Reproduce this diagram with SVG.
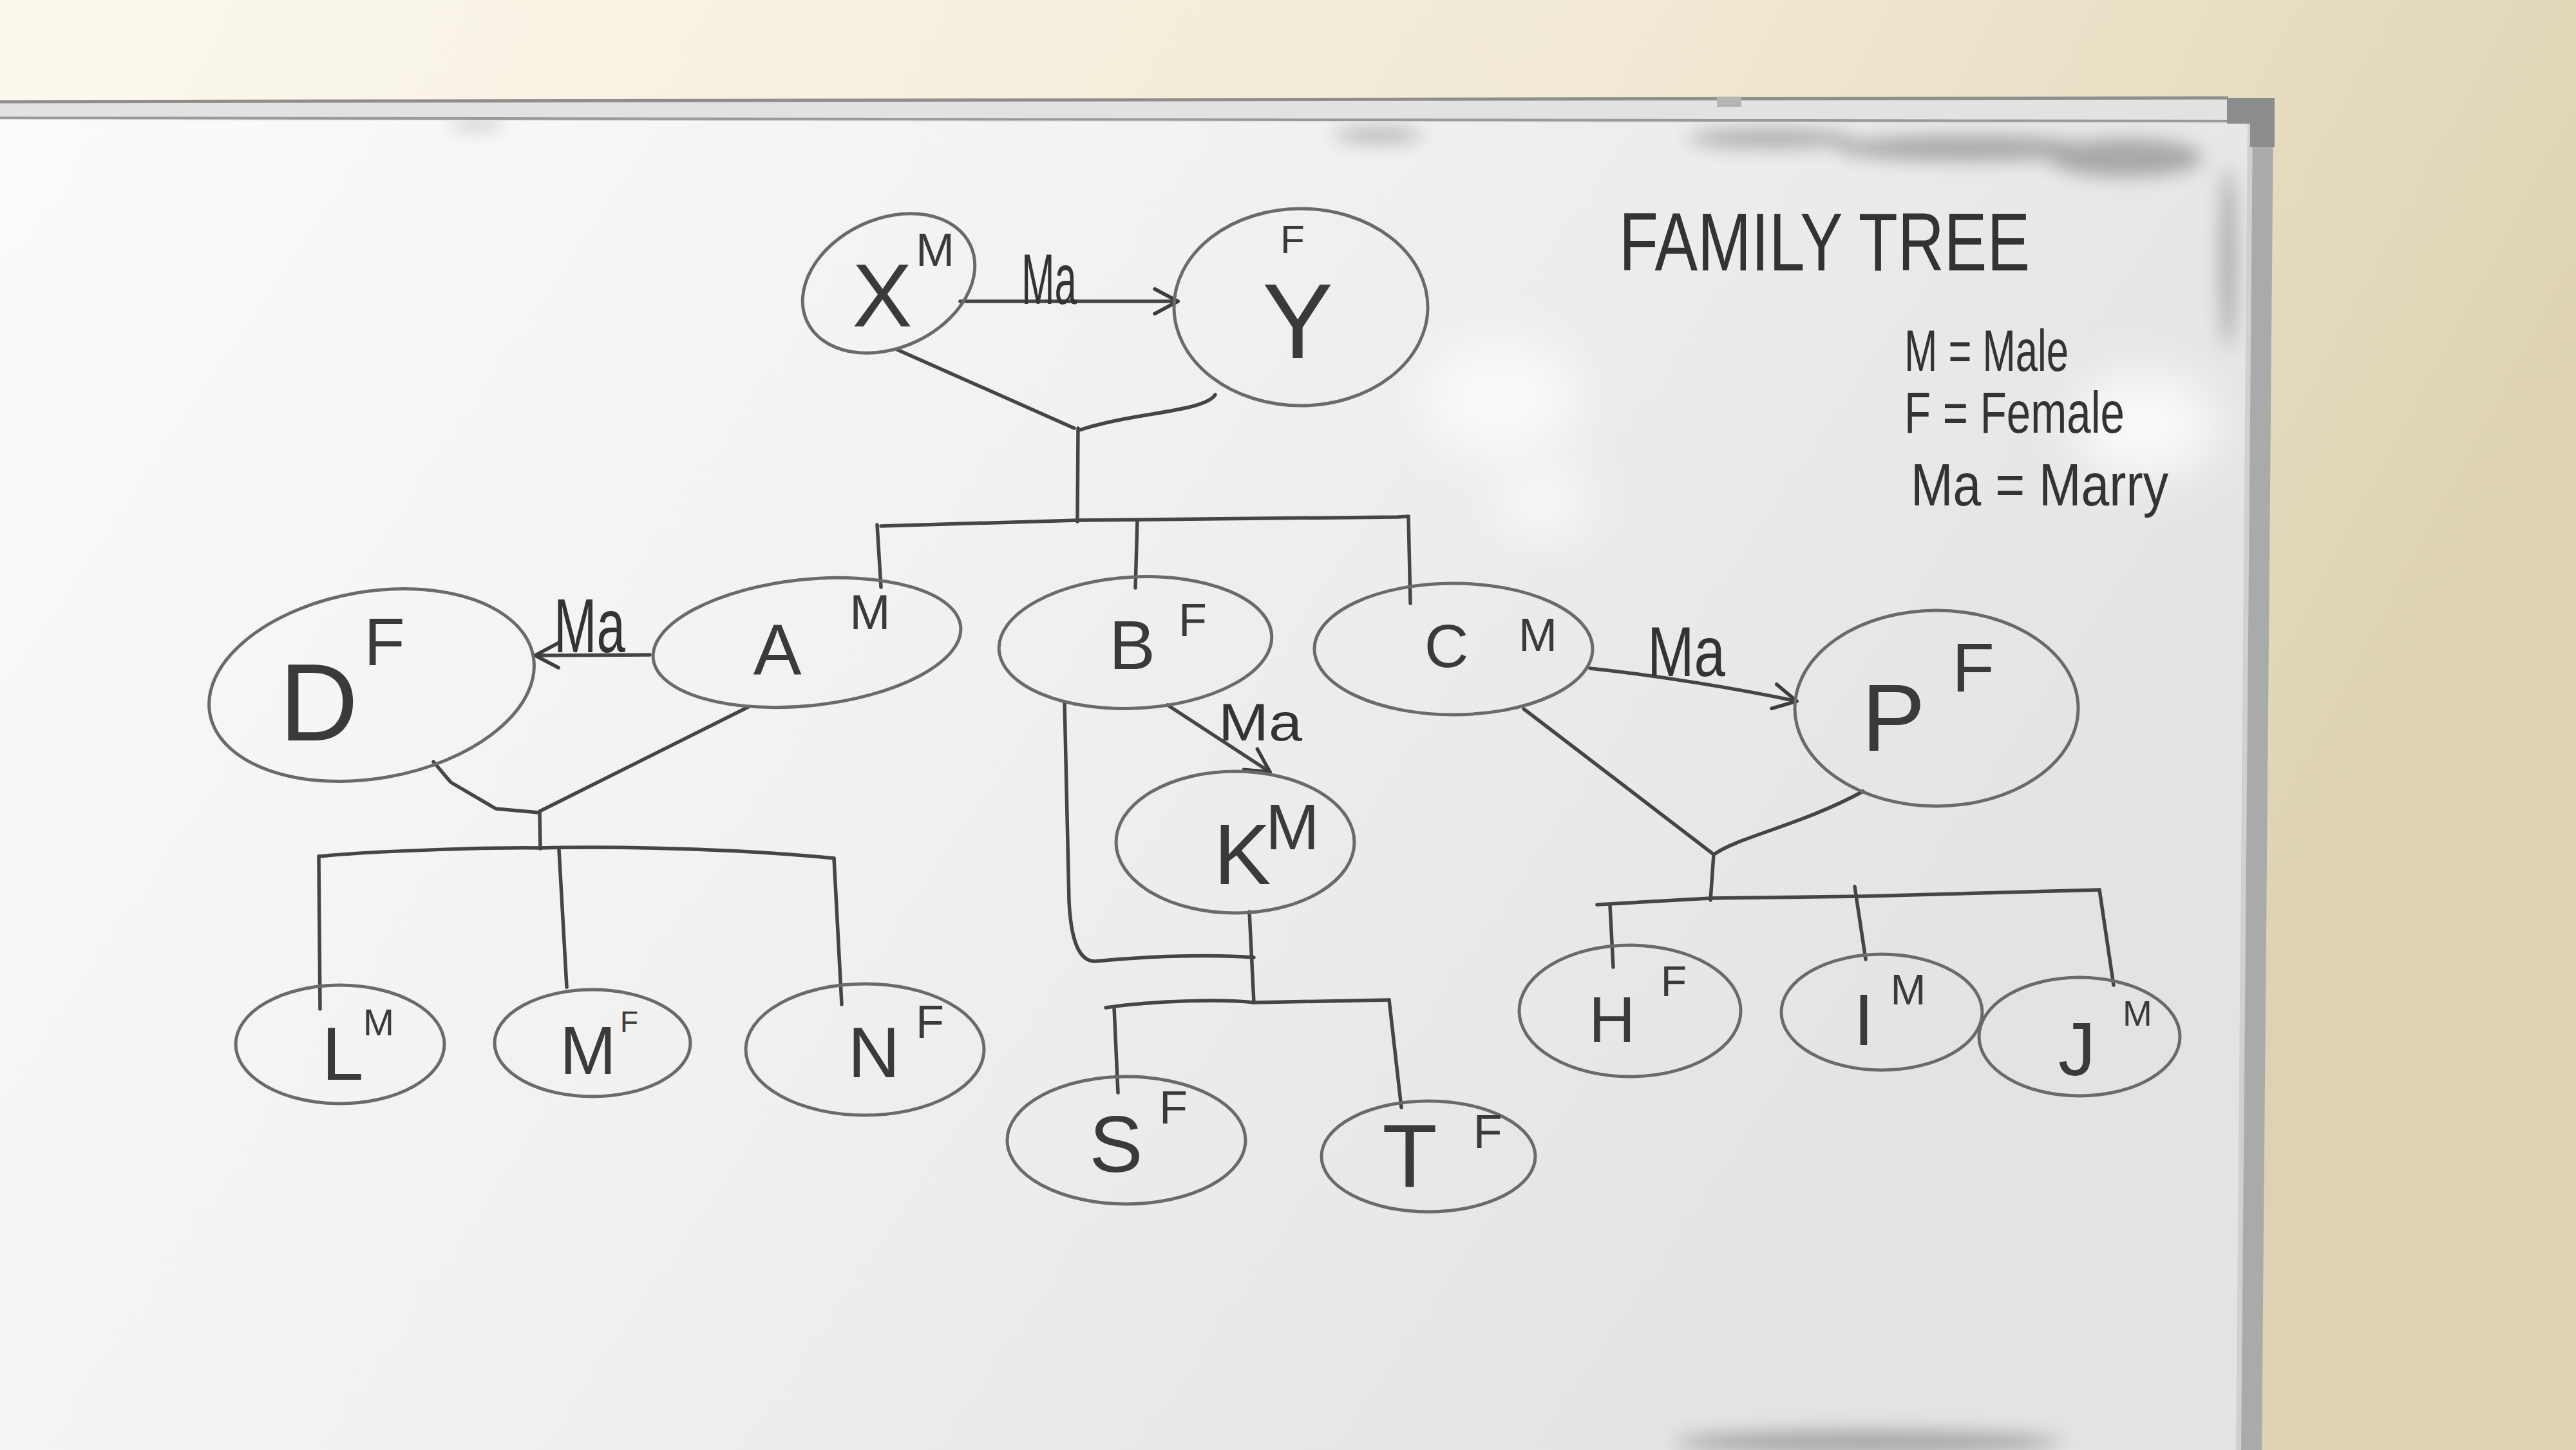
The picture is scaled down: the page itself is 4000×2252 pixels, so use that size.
<svg xmlns="http://www.w3.org/2000/svg" width="4000" height="2252" viewBox="0 0 4000 2252">
<defs>
<linearGradient id="wall" x1="0" y1="0" x2="1" y2="0.3">
<stop offset="0" stop-color="#fbf8ee"/>
<stop offset="0.6" stop-color="#f1e9d3"/>
<stop offset="1" stop-color="#ddd3b3"/>
</linearGradient>
<linearGradient id="board" x1="0" y1="0" x2="1" y2="0.4">
<stop offset="0" stop-color="#fbfbfa"/>
<stop offset="0.5" stop-color="#f1f1ef"/>
<stop offset="1" stop-color="#e3e4e2"/>
</linearGradient>
<filter id="blur" x="-50%" y="-50%" width="200%" height="200%"><feGaussianBlur stdDeviation="14"/></filter>
<filter id="blur2" x="-50%" y="-50%" width="200%" height="200%"><feGaussianBlur stdDeviation="40"/></filter>
<marker id="chev" viewBox="0 0 20 20" refX="18" refY="10" markerWidth="48" markerHeight="48" orient="auto" markerUnits="userSpaceOnUse">
<path d="M3,2 L18,10 L3,18" fill="none" stroke="#3d3d3d" stroke-width="2.3" stroke-linecap="round" stroke-linejoin="round"/>
</marker>
<style>
.node{fill:none;stroke:#6a6a6a;stroke-width:5}
.con{fill:none;stroke:#454545;stroke-width:5.5;stroke-linecap:round;stroke-linejoin:round}
.lt{font-family:"Liberation Sans","DejaVu Sans",sans-serif;fill:#3a3a3a;text-anchor:middle}
.sup{font-family:"Liberation Sans","DejaVu Sans",sans-serif;fill:#3a3a3a;text-anchor:middle}
.hw{font-family:"Liberation Sans","DejaVu Sans",sans-serif;fill:#333333}
</style>
</defs>

<g id="background">
<rect x="0" y="0" width="4000" height="2252" fill="url(#wall)"/>
<polygon points="0,185 3494,190 3476,2252 0,2252" fill="url(#board)"/>
<ellipse cx="2330" cy="620" rx="120" ry="90" fill="#ffffff" opacity="0.7" filter="url(#blur2)"/>
<ellipse cx="3330" cy="660" rx="110" ry="80" fill="#ffffff" opacity="0.8" filter="url(#blur2)"/>
<ellipse cx="2395" cy="780" rx="70" ry="50" fill="#ffffff" opacity="0.7" filter="url(#blur2)"/>
<g fill="#5a5a5a" filter="url(#blur)" opacity="0.45">
<ellipse cx="2750" cy="215" rx="130" ry="14"/>
<ellipse cx="3050" cy="230" rx="200" ry="20"/>
<ellipse cx="3300" cy="245" rx="120" ry="30"/>
<ellipse cx="3460" cy="400" rx="12" ry="140"/>
<ellipse cx="2900" cy="2240" rx="300" ry="18"/>
<ellipse cx="2140" cy="210" rx="70" ry="10"/>
<ellipse cx="740" cy="193" rx="40" ry="6"/>
</g>
<polygon points="0,156 3460,150 3460,192 0,186" fill="#e2e2e0"/>
<path d="M0,158 L3460,152" stroke="#8e8e8e" stroke-width="5" fill="none"/>
<path d="M0,183 L3460,188" stroke="#9a9a9a" stroke-width="4" fill="none"/>
<polygon points="3492,190 3530,190 3512,2252 3474,2252" fill="#a9abaa"/>
<path d="M3494,190 L3476,2252" stroke="#d0d0cf" stroke-width="8"/>
<path d="M3458,152 L3532,152 L3532,228 L3494,228 L3494,192 L3458,192 Z" fill="#8b8d8d"/>
<rect x="2666" y="150" width="38" height="16" fill="#b5b5b3"/>
</g>

<g id="title">
<text class="hw" x="2514" y="420" font-size="128" textLength="638" lengthAdjust="spacingAndGlyphs">FAMILY TREE</text>
</g>
<g id="legend">
<text class="hw" x="2957" y="576" font-size="90" textLength="255" lengthAdjust="spacingAndGlyphs">M = Male</text>
<text class="hw" x="2957" y="672" font-size="90" textLength="342" lengthAdjust="spacingAndGlyphs">F = Female</text>
<text class="hw" x="2967" y="785" font-size="92" textLength="400" lengthAdjust="spacingAndGlyphs">Ma = Marry</text>
</g>

<g id="connectors">
<line class="con" x1="1491" y1="468" x2="1829" y2="468" marker-end="url(#chev)"/>
<text class="hw" x="1586" y="472" font-size="112" textLength="86" lengthAdjust="spacingAndGlyphs">Ma</text>
<path class="con" d="M1393,543 L1668,665"/>
<path class="con" d="M1887,613 C1870,640 1760,640 1676,668"/>
<path class="con" d="M1674,665 L1673,810"/>
<path class="con" d="M1368,817 L1674,808 L2170,803 L2187,802"/>
<path class="con" d="M1362,815 L1368,912"/>
<path class="con" d="M1766,808 L1763,913"/>
<path class="con" d="M2187,802 L2190,937"/>

<line class="con" x1="1009" y1="1017" x2="831" y2="1018" marker-end="url(#chev)"/>
<text class="hw" x="860" y="1013" font-size="118" textLength="111" lengthAdjust="spacingAndGlyphs">Ma</text>
<path class="con" d="M673,1183 L700,1215 L770,1256 L837,1262"/>
<path class="con" d="M1162,1098 L838,1260"/>
<path class="con" d="M838,1262 L839,1318"/>
<path class="con" d="M495,1330 C600,1320 780,1316 839,1317 C950,1314 1150,1318 1295,1333"/>
<path class="con" d="M495,1330 L497,1567"/>
<path class="con" d="M868,1320 L880,1533"/>
<path class="con" d="M1295,1333 L1307,1560"/>

<line class="con" x1="1813" y1="1095" x2="1972" y2="1199" marker-end="url(#chev)"/>
<text class="hw" x="1892" y="1150" font-size="82" textLength="130" lengthAdjust="spacingAndGlyphs">Ma</text>
<path class="con" d="M1653,1090 L1660,1400 C1663,1460 1675,1493 1700,1493 C1800,1483 1900,1483 1947,1487"/>
<path class="con" d="M1940,1416 L1947,1557"/>
<path class="con" d="M1717,1565 C1800,1553 1900,1552 1947,1557 L2157,1553"/>
<path class="con" d="M1730,1565 L1736,1697"/>
<path class="con" d="M2157,1553 L2176,1720"/>

<path class="con" d="M2469,1038 C2580,1050 2700,1070 2790,1089" marker-end="url(#chev)"/>
<text class="hw" x="2558" y="1050" font-size="110" textLength="121" lengthAdjust="spacingAndGlyphs">Ma</text>
<path class="con" d="M2366,1101 L2661,1327"/>
<path class="con" d="M2893,1229 C2800,1280 2700,1300 2663,1326"/>
<path class="con" d="M2661,1327 L2656,1398"/>
<path class="con" d="M2480,1405 L2656,1395 L2894,1392 L3260,1382"/>
<path class="con" d="M2500,1407 L2505,1502"/>
<path class="con" d="M2880,1377 L2897,1490"/>
<path class="con" d="M3260,1382 L3282,1530"/>
</g>

<g id="node-X">
<ellipse class="node" cx="1380" cy="440" rx="140" ry="100" transform="rotate(-25 1380 440)"/>
<text class="lt" x="1370" y="507" font-size="140">X</text>
<text class="sup" x="1452" y="413" font-size="72">M</text>
</g>
<g id="node-Y">
<ellipse class="node" cx="2020" cy="477" rx="197" ry="153"/>
<text class="lt" x="2015" y="556" font-size="165">Y</text>
<text class="sup" x="2007" y="393" font-size="62">F</text>
</g>
<g id="node-D">
<ellipse class="node" cx="577" cy="1064" rx="255" ry="145" transform="rotate(-10 577 1064)"/>
<text class="lt" x="495" y="1150" font-size="170">D</text>
<text class="sup" x="597" y="1033" font-size="104">F</text>
</g>
<g id="node-A">
<ellipse class="node" cx="1253" cy="998" rx="240" ry="98" transform="rotate(-6 1253 998)"/>
<text class="lt" x="1207" y="1047" font-size="112">A</text>
<text class="sup" x="1351" y="977" font-size="76">M</text>
</g>
<g id="node-B">
<ellipse class="node" cx="1763" cy="998" rx="212" ry="102" transform="rotate(-3 1763 998)"/>
<text class="lt" x="1758" y="1039" font-size="108">B</text>
<text class="sup" x="1852" y="988" font-size="72">F</text>
</g>
<g id="node-C">
<ellipse class="node" cx="2257" cy="1008" rx="216" ry="102"/>
<text class="lt" x="2246" y="1036" font-size="95">C</text>
<text class="sup" x="2388" y="1011" font-size="72">M</text>
</g>
<g id="node-K">
<ellipse class="node" cx="1918" cy="1308" rx="185" ry="110"/>
<text class="lt" x="1929" y="1373" font-size="133">K</text>
<text class="sup" x="2007" y="1319" font-size="100">M</text>
</g>
<g id="node-P">
<ellipse class="node" cx="3007" cy="1100" rx="220" ry="152"/>
<text class="lt" x="2940" y="1166" font-size="148">P</text>
<text class="sup" x="3064" y="1074" font-size="108">F</text>
</g>
<g id="node-L">
<ellipse class="node" cx="528" cy="1622" rx="162" ry="92"/>
<text class="lt" x="532" y="1677" font-size="117">L</text>
<text class="sup" x="588" y="1608" font-size="58">M</text>
</g>
<g id="node-M">
<ellipse class="node" cx="920" cy="1620" rx="152" ry="83"/>
<text class="lt" x="913" y="1668" font-size="105">M</text>
<text class="sup" x="977" y="1603" font-size="46">F</text>
</g>
<g id="node-N">
<ellipse class="node" cx="1343" cy="1630" rx="185" ry="102"/>
<text class="lt" x="1357" y="1673" font-size="112">N</text>
<text class="sup" x="1444" y="1612" font-size="72">F</text>
</g>
<g id="node-S">
<ellipse class="node" cx="1749" cy="1771" rx="185" ry="99"/>
<text class="lt" x="1733" y="1820" font-size="125">S</text>
<text class="sup" x="1822" y="1745" font-size="72">F</text>
</g>
<g id="node-T">
<ellipse class="node" cx="2218" cy="1796" rx="166" ry="86"/>
<text class="lt" x="2189" y="1843" font-size="140">T</text>
<text class="sup" x="2310" y="1783" font-size="74">F</text>
</g>
<g id="node-H">
<ellipse class="node" cx="2531" cy="1570" rx="172" ry="102"/>
<text class="lt" x="2503" y="1618" font-size="100">H</text>
<text class="sup" x="2599" y="1547" font-size="66">F</text>
</g>
<g id="node-I">
<ellipse class="node" cx="2922" cy="1572" rx="156" ry="90"/>
<text class="lt" x="2894" y="1623" font-size="113">I</text>
<text class="sup" x="2963" y="1560" font-size="66">M</text>
</g>
<g id="node-J">
<ellipse class="node" cx="3229" cy="1610" rx="156" ry="92"/>
<text class="lt" x="3225" y="1670" font-size="116">J</text>
<text class="sup" x="3319" y="1593" font-size="55">M</text>
</g>
</svg>
